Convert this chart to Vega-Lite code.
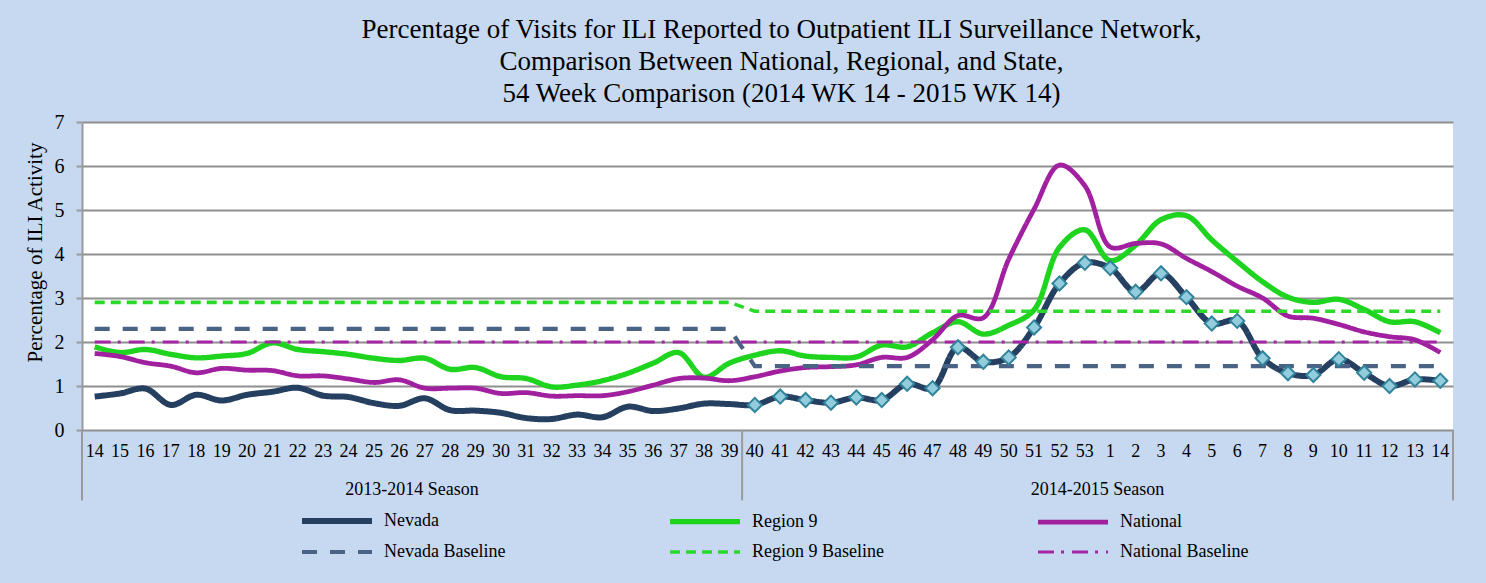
{
  "$schema": "https://vega.github.io/schema/vega-lite/v6.json",
  "autosize": "none",
  "width": 1371,
  "height": 308,
  "padding": {"left": 82, "top": 122, "right": 33, "bottom": 153},
  "background": "#C6D9F1",
  "config": {
    "view": {"stroke": null, "fill": "white"},
    "font": "Liberation Serif"
  },
  "title": {
    "text": ["Percentage of Visits for ILI Reported to Outpatient ILI Surveillance Network,", "Comparison Between National, Regional, and State,", "54 Week Comparison (2014 WK 14 - 2015 WK 14)"],
    "font": "Liberation Serif",
    "fontSize": 27,
    "fontWeight": "normal",
    "color": "#000000",
    "lineHeight": 32,
    "anchor": "middle",
    "frame": "group",
    "dx": 14,
    "offset": 4
  },
  "datasets": {
    "main": [
      {"week":"00-14","series":"Nevada","value":0.76},{"week":"01-15","series":"Nevada","value":0.83},{"week":"02-16","series":"Nevada","value":0.94},{"week":"03-17","series":"Nevada","value":0.57},{"week":"04-18","series":"Nevada","value":0.80},{"week":"05-19","series":"Nevada","value":0.67},{"week":"06-20","series":"Nevada","value":0.80},{"week":"07-21","series":"Nevada","value":0.87},{"week":"08-22","series":"Nevada","value":0.96},{"week":"09-23","series":"Nevada","value":0.78},{"week":"10-24","series":"Nevada","value":0.75},{"week":"11-25","series":"Nevada","value":0.61},{"week":"12-26","series":"Nevada","value":0.55},{"week":"13-27","series":"Nevada","value":0.72},{"week":"14-28","series":"Nevada","value":0.45},{"week":"15-29","series":"Nevada","value":0.44},{"week":"16-30","series":"Nevada","value":0.39},{"week":"17-31","series":"Nevada","value":0.27},{"week":"18-32","series":"Nevada","value":0.25},{"week":"19-33","series":"Nevada","value":0.35},{"week":"20-34","series":"Nevada","value":0.29},{"week":"21-35","series":"Nevada","value":0.53},{"week":"22-36","series":"Nevada","value":0.43},{"week":"23-37","series":"Nevada","value":0.49},{"week":"24-38","series":"Nevada","value":0.60},{"week":"25-39","series":"Nevada","value":0.59},{"week":"26-40","series":"Nevada","value":0.57},{"week":"27-41","series":"Nevada","value":0.76},{"week":"28-42","series":"Nevada","value":0.68},{"week":"29-43","series":"Nevada","value":0.62},{"week":"30-44","series":"Nevada","value":0.74},{"week":"31-45","series":"Nevada","value":0.68},{"week":"32-46","series":"Nevada","value":1.05},{"week":"33-47","series":"Nevada","value":0.95},{"week":"34-48","series":"Nevada","value":1.88},{"week":"35-49","series":"Nevada","value":1.55},{"week":"36-50","series":"Nevada","value":1.65},{"week":"37-51","series":"Nevada","value":2.33},{"week":"38-52","series":"Nevada","value":3.33},{"week":"39-53","series":"Nevada","value":3.80},{"week":"40-1","series":"Nevada","value":3.68},{"week":"41-2","series":"Nevada","value":3.14},{"week":"42-3","series":"Nevada","value":3.56},{"week":"43-4","series":"Nevada","value":3.02},{"week":"44-5","series":"Nevada","value":2.42},{"week":"45-6","series":"Nevada","value":2.48},{"week":"46-7","series":"Nevada","value":1.63},{"week":"47-8","series":"Nevada","value":1.29},{"week":"48-9","series":"Nevada","value":1.25},{"week":"49-10","series":"Nevada","value":1.61},{"week":"50-11","series":"Nevada","value":1.30},{"week":"51-12","series":"Nevada","value":1.00},{"week":"52-13","series":"Nevada","value":1.15},{"week":"53-14","series":"Nevada","value":1.12},
      {"week":"00-14","series":"Region 9","value":1.89},{"week":"01-15","series":"Region 9","value":1.76},{"week":"02-16","series":"Region 9","value":1.83},{"week":"03-17","series":"Region 9","value":1.72},{"week":"04-18","series":"Region 9","value":1.64},{"week":"05-19","series":"Region 9","value":1.68},{"week":"06-20","series":"Region 9","value":1.74},{"week":"07-21","series":"Region 9","value":1.98},{"week":"08-22","series":"Region 9","value":1.83},{"week":"09-23","series":"Region 9","value":1.78},{"week":"10-24","series":"Region 9","value":1.72},{"week":"11-25","series":"Region 9","value":1.63},{"week":"12-26","series":"Region 9","value":1.58},{"week":"13-27","series":"Region 9","value":1.63},{"week":"14-28","series":"Region 9","value":1.38},{"week":"15-29","series":"Region 9","value":1.42},{"week":"16-30","series":"Region 9","value":1.21},{"week":"17-31","series":"Region 9","value":1.17},{"week":"18-32","series":"Region 9","value":0.98},{"week":"19-33","series":"Region 9","value":1.02},{"week":"20-34","series":"Region 9","value":1.12},{"week":"21-35","series":"Region 9","value":1.29},{"week":"22-36","series":"Region 9","value":1.52},{"week":"23-37","series":"Region 9","value":1.76},{"week":"24-38","series":"Region 9","value":1.20},{"week":"25-39","series":"Region 9","value":1.52},{"week":"26-40","series":"Region 9","value":1.70},{"week":"27-41","series":"Region 9","value":1.80},{"week":"28-42","series":"Region 9","value":1.68},{"week":"29-43","series":"Region 9","value":1.65},{"week":"30-44","series":"Region 9","value":1.66},{"week":"31-45","series":"Region 9","value":1.93},{"week":"32-46","series":"Region 9","value":1.89},{"week":"33-47","series":"Region 9","value":2.21},{"week":"34-48","series":"Region 9","value":2.46},{"week":"35-49","series":"Region 9","value":2.18},{"week":"36-50","series":"Region 9","value":2.38},{"week":"37-51","series":"Region 9","value":2.73},{"week":"38-52","series":"Region 9","value":4.15},{"week":"39-53","series":"Region 9","value":4.55},{"week":"40-1","series":"Region 9","value":3.85},{"week":"41-2","series":"Region 9","value":4.20},{"week":"42-3","series":"Region 9","value":4.78},{"week":"43-4","series":"Region 9","value":4.87},{"week":"44-5","series":"Region 9","value":4.32},{"week":"45-6","series":"Region 9","value":3.83},{"week":"46-7","series":"Region 9","value":3.37},{"week":"47-8","series":"Region 9","value":3.02},{"week":"48-9","series":"Region 9","value":2.90},{"week":"49-10","series":"Region 9","value":2.97},{"week":"50-11","series":"Region 9","value":2.74},{"week":"51-12","series":"Region 9","value":2.46},{"week":"52-13","series":"Region 9","value":2.46},{"week":"53-14","series":"Region 9","value":2.21},
      {"week":"00-14","series":"National","value":1.74},{"week":"01-15","series":"National","value":1.67},{"week":"02-16","series":"National","value":1.53},{"week":"03-17","series":"National","value":1.45},{"week":"04-18","series":"National","value":1.30},{"week":"05-19","series":"National","value":1.40},{"week":"06-20","series":"National","value":1.36},{"week":"07-21","series":"National","value":1.35},{"week":"08-22","series":"National","value":1.23},{"week":"09-23","series":"National","value":1.23},{"week":"10-24","series":"National","value":1.16},{"week":"11-25","series":"National","value":1.08},{"week":"12-26","series":"National","value":1.14},{"week":"13-27","series":"National","value":0.95},{"week":"14-28","series":"National","value":0.95},{"week":"15-29","series":"National","value":0.95},{"week":"16-30","series":"National","value":0.83},{"week":"17-31","series":"National","value":0.85},{"week":"18-32","series":"National","value":0.77},{"week":"19-33","series":"National","value":0.78},{"week":"20-34","series":"National","value":0.78},{"week":"21-35","series":"National","value":0.87},{"week":"22-36","series":"National","value":1.02},{"week":"23-37","series":"National","value":1.17},{"week":"24-38","series":"National","value":1.18},{"week":"25-39","series":"National","value":1.12},{"week":"26-40","series":"National","value":1.21},{"week":"27-41","series":"National","value":1.34},{"week":"28-42","series":"National","value":1.42},{"week":"29-43","series":"National","value":1.44},{"week":"30-44","series":"National","value":1.48},{"week":"31-45","series":"National","value":1.65},{"week":"32-46","series":"National","value":1.65},{"week":"33-47","series":"National","value":2.05},{"week":"34-48","series":"National","value":2.60},{"week":"35-49","series":"National","value":2.55},{"week":"36-50","series":"National","value":3.88},{"week":"37-51","series":"National","value":5.02},{"week":"38-52","series":"National","value":6.02},{"week":"39-53","series":"National","value":5.55},{"week":"40-1","series":"National","value":4.16},{"week":"41-2","series":"National","value":4.24},{"week":"42-3","series":"National","value":4.23},{"week":"43-4","series":"National","value":3.90},{"week":"44-5","series":"National","value":3.60},{"week":"45-6","series":"National","value":3.27},{"week":"46-7","series":"National","value":3.00},{"week":"47-8","series":"National","value":2.59},{"week":"48-9","series":"National","value":2.54},{"week":"49-10","series":"National","value":2.40},{"week":"50-11","series":"National","value":2.23},{"week":"51-12","series":"National","value":2.12},{"week":"52-13","series":"National","value":2.05},{"week":"53-14","series":"National","value":1.76},
      {"week":"00-14","series":"Nevada Baseline","value":2.3},{"week":"25-39","series":"Nevada Baseline","value":2.3},{"week":"26-40","series":"Nevada Baseline","value":1.45},{"week":"53-14","series":"Nevada Baseline","value":1.45},
      {"week":"00-14","series":"Region 9 Baseline","value":2.9},{"week":"25-39","series":"Region 9 Baseline","value":2.9},{"week":"26-40","series":"Region 9 Baseline","value":2.7},{"week":"53-14","series":"Region 9 Baseline","value":2.7},
      {"week":"00-14","series":"National Baseline","value":2.0},{"week":"25-39","series":"National Baseline","value":2.0},{"week":"26-40","series":"National Baseline","value":2.0},{"week":"53-14","series":"National Baseline","value":2.0}
    ],
    "sepsStart": [{"week":"00-14"},{"week":"26-40"}],
    "sepsEnd": [{"week":"53-14"}],
    "seasons": [{"week":"12-26","label":"2013-2014 Season"},{"week":"39-53","label":"2014-2015 Season"}]
  },
  "data": {"name": "main"},
  "layer": [
    {
      "data": {"name": "sepsStart"},
      "mark": {"type": "rule", "color": "#9a9a9a", "strokeWidth": 2},
      "encoding": {
        "x": {"field": "week", "type": "ordinal", "bandPosition": 0, "sort": "ascending",
              "scale": {"type": "band", "paddingInner": 0, "paddingOuter": 0},
              "title": null,
              "axis": {"labelExpr": "split(datum.label, '-')[1]", "labelAngle": 0, "labelFont": "Liberation Serif", "labelFontSize": 18, "labelColor": "#000000", "labelPadding": 12, "ticks": false, "domain": false, "grid": false, "labelOverlap": false}},
        "y": {"datum": 0, "type": "quantitative"},
        "y2": {"datum": -1.6}
      }
    },
    {
      "data": {"name": "sepsEnd"},
      "mark": {"type": "rule", "color": "#9a9a9a", "strokeWidth": 2},
      "encoding": {
        "x": {"field": "week", "type": "ordinal", "bandPosition": 1, "sort": "ascending"},
        "y": {"datum": 0, "type": "quantitative"},
        "y2": {"datum": -1.6}
      }
    },
    {
      "transform": [{"filter": {"field": "series", "oneOf": ["Nevada", "Region 9", "National"]}}],
      "mark": {"type": "line", "interpolate": "catmull-rom", "strokeJoin": "round"},
      "encoding": {
        "x": {"field": "week", "type": "ordinal", "bandPosition": 0.5, "sort": "ascending"},
        "y": {"field": "value", "type": "quantitative",
              "scale": {"domain": [0, 7], "nice": false, "zero": false},
              "title": "Percentage of ILI Activity",
              "axis": {"values": [0,1,2,3,4,5,6,7], "grid": true, "gridColor": "#8f8f8f", "gridWidth": 2, "domainColor": "#9a9a9a", "domainWidth": 2, "tickColor": "#9a9a9a", "tickSize": 6, "tickWidth": 2, "labelFont": "Liberation Serif", "labelFontSize": 20, "labelColor": "#000000", "labelPadding": 12, "titleFont": "Liberation Serif", "titleFontSize": 21, "titleFontWeight": "normal", "titleColor": "#000000", "titlePadding": 9, "titleY": 130}},
        "color": {"field": "series", "type": "nominal",
                  "scale": {"domain": ["Nevada", "Region 9", "National", "Nevada Baseline", "Region 9 Baseline", "National Baseline"],
                            "range": ["#243F60", "#1ED41E", "#A020A0", "#4A6385", "#2BD92B", "#A527A5"]},
                  "legend": {"title": null, "orient": "none", "legendX": 246, "legendY": 390, "direction": "horizontal", "columns": 3, "gridAlign": "all", "columnPadding": 143, "rowPadding": 10, "padding": 0, "symbolType": "M-7,0L7,0", "symbolSize": 100, "symbolStrokeWidth": 3.5, "labelOffset": 38, "labelFont": "Liberation Serif", "labelFontSize": 18, "labelColor": "#000000", "labelLimit": 300,
                             "encode": {"symbols": {"update": {"strokeWidth": {"signal": "datum.value === 'Nevada' ? 6 : 3.5"}}}}}},
        "strokeDash": {"field": "series", "type": "nominal",
                       "scale": {"domain": ["Nevada", "Region 9", "National", "Nevada Baseline", "Region 9 Baseline", "National Baseline"],
                                 "range": [[1, 0], [1, 0], [1, 0], [15, 13], [10, 6], [16, 7, 3, 8]]},
                       "legend": {"title": null}},
        "strokeWidth": {"field": "series", "type": "nominal",
                        "scale": {"domain": ["Nevada", "Region 9", "National", "Nevada Baseline", "Region 9 Baseline", "National Baseline"],
                                  "range": [6, 3, 3, 3.5, 3.5, 3.5]},
                        "legend": null}
      }
    },
    {
      "transform": [{"filter": {"field": "series", "oneOf": ["Nevada Baseline", "Region 9 Baseline", "National Baseline"]}}],
      "mark": {"type": "line", "interpolate": "linear"},
      "encoding": {
        "x": {"field": "week", "type": "ordinal", "bandPosition": 0.5, "sort": "ascending"},
        "y": {"field": "value", "type": "quantitative"},
        "color": {"field": "series", "type": "nominal"},
        "strokeDash": {"field": "series", "type": "nominal"},
        "strokeWidth": {"field": "series", "type": "nominal", "legend": null}
      }
    },
    {
      "transform": [{"filter": "datum.series === 'Nevada' && datum.week >= '26-40'"}],
      "mark": {"type": "point", "shape": "diamond", "filled": true, "fill": "#93CDDD", "stroke": "#31849B", "strokeWidth": 2, "size": 200, "opacity": 1},
      "encoding": {
        "x": {"field": "week", "type": "ordinal", "bandPosition": 0.5, "sort": "ascending"},
        "y": {"field": "value", "type": "quantitative"}
      }
    },
    {
      "data": {"name": "seasons"},
      "mark": {"type": "text", "font": "Liberation Serif", "fontSize": 18, "color": "#000000", "baseline": "middle", "align": "center"},
      "encoding": {
        "x": {"field": "week", "type": "ordinal", "bandPosition": 1, "sort": "ascending"},
        "y": {"datum": -1.36, "type": "quantitative"},
        "text": {"field": "label"}
      }
    }
  ]
}
